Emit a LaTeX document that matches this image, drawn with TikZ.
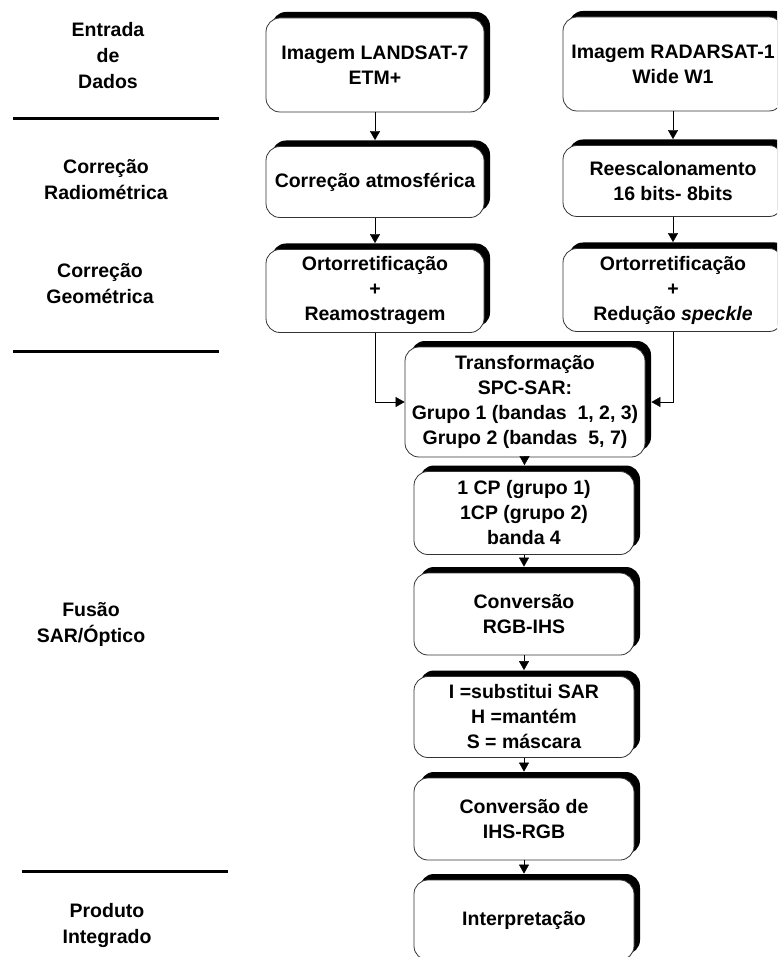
\documentclass[tikz,border=0pt]{standalone}
\usepackage{fontspec}
\setmainfont{Liberation Sans}
\usepackage{tikz}
\usetikzlibrary{arrows.meta}
\usetikzlibrary{shadows}

\begin{document}
\begin{tikzpicture}[x=1pt,y=-1pt,
  font=\fontsize{19.5}{25}\selectfont\bfseries,
  >={Triangle[length=9pt,width=10pt]},
  etapa/.style={draw=black!80, line width=0.8pt, fill=white, rounded corners=14pt,
    align=center, inner sep=2pt,
    drop shadow={shadow xshift=6pt, shadow yshift=6pt, fill=black, opacity=1}},
  rotulo/.style={align=center, font=\fontsize{19.5}{26}\selectfont\bfseries},
  divisor/.style={line width=3pt}]
\useasboundingbox (0,0) rectangle (777,957);
\clip (0,0) rectangle (777,957);
% fases
\node[rotulo] (entrada) at (108,56) {Entrada\\de\\Dados};
\node[rotulo] (radiom) at (106,180) {Correção\\Radiométrica};
\node[rotulo] (geom) at (100,284) {Correção\\Geométrica};
\node[rotulo] (fusao) at (91,624) {Fusão\\SAR/Óptico};
\node[rotulo] (produto) at (107,925) {Produto\\Integrado};
\draw[divisor] (13,119) -- (219,119);
\draw[divisor] (13,351) -- (219,351);
\draw[divisor] (22,871) -- (228,871);
% etapas
\node[etapa, minimum width=218pt, minimum height=94pt] (landsat) at (375,65) {Imagem LANDSAT-7\\ETM+};
\node[etapa, minimum width=220pt, minimum height=94pt] (radarsat) at (673,64) {Imagem RADARSAT-1\\Wide W1};
\node[etapa, minimum width=218pt, minimum height=71pt] (atmos) at (375,182) {Correção atmosférica};
\node[etapa, minimum width=220pt, minimum height=71pt] (reesc) at (673,181) {Reescalonamento\\16 bits- 8bits};
\node[etapa, minimum width=218pt, minimum height=83pt] (ortoL) at (375,291) {Ortorretificação\\+\\Reamostragem};
\node[etapa, minimum width=220pt, minimum height=83pt] (ortoR) at (673,290) {Ortorretificação\\+\\Redução \textit{speckle}};
\node[etapa, minimum width=240pt, minimum height=110pt] (spc) at (525,402) {Transformação\\SPC-SAR:\\Grupo 1 (bandas\ \ 1, 2, 3)\\Grupo 2 (bandas\ \ 5, 7)};
\node[etapa, minimum width=220pt, minimum height=83pt] (cp) at (524,513) {1 CP (grupo 1)\\1CP (grupo 2)\\banda 4};
\node[etapa, minimum width=220pt, minimum height=82pt] (rgbihs) at (524,614) {Conversão\\RGB-IHS};
\node[etapa, minimum width=220pt, minimum height=81pt] (subst) at (524,717) {I =substitui SAR\\H =mantém\\S = máscara};
\node[etapa, minimum width=220pt, minimum height=82pt] (ihsrgb) at (524,819) {Conversão de\\IHS-RGB};
\node[etapa, minimum width=220pt, minimum height=80pt] (interp) at (524,920) {Interpretação};
% ligacoes
\draw[->, shorten >=6pt] (landsat) -- (atmos);
\draw[->, shorten >=6pt] (radarsat) -- (reesc);
\draw[->, shorten >=6pt] (atmos) -- (ortoL);
\draw[->, shorten >=6pt] (reesc) -- (ortoR);
\draw[->] (ortoL.south) |- (spc.west);
\draw[->, shorten >=6pt] (ortoR.south) |- (spc.east);
\draw[->, shorten >=6pt] (spc) -- (cp);
\draw[->, shorten >=6pt] (cp) -- (rgbihs);
\draw[->, shorten >=6pt] (rgbihs) -- (subst);
\draw[->, shorten >=6pt] (subst) -- (ihsrgb);
\draw[->, shorten >=6pt] (ihsrgb) -- (interp);
\end{tikzpicture}
\end{document}
